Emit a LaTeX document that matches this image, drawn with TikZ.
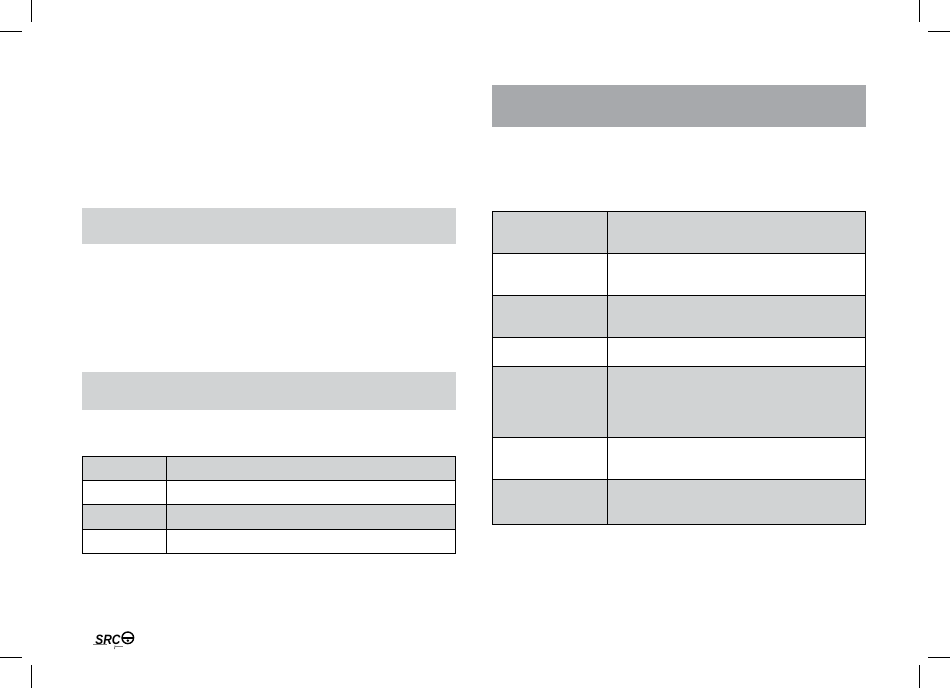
\documentclass[tikz,border=0pt]{standalone}
\usepackage{fontspec}
\setmainfont{Liberation Sans}
\definecolor{cellgray}{HTML}{D1D3D4}
\definecolor{bandgray}{HTML}{A7A9AC}
\tikzset{
  rule/.style={draw=black,line width=1.1pt},
  crop/.style={draw=black,line width=0.8pt},
  lightband/.style={fill=cellgray},
  darkband/.style={fill=bandgray},
}
\begin{document}
\begin{tikzpicture}[x=1pt,y=-1pt]
\useasboundingbox (0,0) rectangle (950,688);
% crop marks
\draw[crop] (31.5,0) -- (31.5,22);
\draw[crop] (0,31.5) -- (22,31.5);
\draw[crop] (919,0) -- (919,22);
\draw[crop] (928,31.5) -- (950,31.5);
\draw[crop] (31.5,665) -- (31.5,688);
\draw[crop] (0,657) -- (22,657);
\draw[crop] (919,665) -- (919,688);
\draw[crop] (928,657) -- (950,657);
% header bands
\fill[lightband] (82,207.5) rectangle (455.8,243.8);
\fill[lightband] (82,372) rectangle (455.8,409.7);
\fill[darkband] (492,84.7) rectangle (865.8,126.7);
% left table
\fill[cellgray] (82.3,456.3) rectangle (455.6,480.3);
\fill[cellgray] (82.3,504.3) rectangle (455.6,529.3);
\draw[rule] (82.3,456.3) rectangle (455.6,553.3);
\foreach \yy in {480.3,504.3,529.3} \draw[rule] (82.3,\yy) -- (455.6,\yy);
\draw[rule] (166.3,456.3) -- (166.3,553.3);
% right table
\fill[cellgray] (492.3,211.3) rectangle (865.3,253.3);
\fill[cellgray] (492.3,295.3) rectangle (865.3,337.3);
\fill[cellgray] (492.3,366.3) rectangle (865.3,437.3);
\fill[cellgray] (492.3,479.3) rectangle (865.3,524.3);
\draw[rule] (492.3,211.3) rectangle (865.3,524.3);
\foreach \yy in {253.3,295.3,337.3,366.3,437.3,479.3} \draw[rule] (492.3,\yy) -- (865.3,\yy);
\draw[rule] (607.3,211.3) -- (607.3,524.3);
% logo
\node[inner sep=0pt,anchor=center,xscale=0.88,font=\bfseries\itshape\fontsize{13.5}{13.5}\selectfont] (logotext) at (108,640) {SRC};
\draw[black,line width=1.4pt] (127.8,637.8) circle (5.8);
\draw[black,line width=1.5pt] (121.5,637.8) -- (134,637.8);
\fill[black] (127.8,640.6) circle (1.4);
\draw[gray,line width=1.2pt] (93,644.8) -- (107,644.8);
\draw[gray,line width=1pt] (115,646) -- (123,646);
\draw[black!70,line width=0.6pt] (115,645.5) -- (114.5,649);
\end{tikzpicture}
\end{document}
